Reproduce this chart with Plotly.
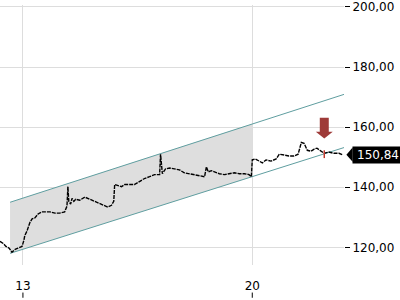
import plotly.graph_objects as go

# ---- data ----
x_tickvals = [0, 5]
x_ticktext = ["13", "20"]
y_tickvals = [120, 140, 160, 180, 200]

# time in trading days (0 = start of the 13th), price values
price_t = [-0.50, -0.43, -0.37, -0.30, -0.24, -0.17, -0.11, -0.02, 0.02, 0.04,
           0.09, 0.15, 0.20, 0.26, 0.33, 0.41, 0.48, 0.59, 0.70, 0.80,
           0.91, 0.96, 0.98, 1.00, 1.04, 1.07, 1.11, 1.15, 1.24, 1.35,
           1.46, 1.57, 1.67, 1.78, 1.85, 1.93, 1.98, 2.00, 2.07, 2.15,
           2.22, 2.33, 2.43, 2.54, 2.65, 2.76, 2.87, 2.98, 3.00, 3.04,
           3.07, 3.11, 3.20, 3.30, 3.41, 3.52, 3.63, 3.74, 3.85, 3.96,
           4.00, 4.04, 4.11, 4.17, 4.28, 4.39, 4.50, 4.61, 4.72, 4.83,
           4.93, 4.98, 5.00, 5.07, 5.15, 5.22, 5.30, 5.41, 5.52, 5.59,
           5.70, 5.80, 5.91, 6.00, 6.07, 6.13, 6.20, 6.28, 6.35, 6.41,
           6.50, 6.57, 6.67, 6.78, 6.89, 6.96]
price_v = [122.0, 121.3, 120.3, 119.7, 118.4, 119.3, 119.7, 120.3, 122.3, 123.9,
           125.5, 128.2, 129.5, 129.8, 131.1, 131.8, 131.8, 131.8, 131.4, 131.4,
           131.8, 133.7, 140.2, 135.3, 134.4, 136.3, 135.3, 136.0, 135.7, 136.7,
           136.0, 135.3, 134.4, 133.7, 133.4, 134.0, 135.3, 140.9, 140.6, 140.2,
           140.9, 140.9, 140.9, 141.9, 142.9, 143.5, 144.2, 144.2, 151.0, 144.5,
           145.1, 146.1, 146.4, 146.1, 145.8, 144.8, 144.5, 144.2, 143.8, 143.5,
           146.8, 145.1, 145.5, 145.1, 144.5, 144.2, 144.5, 144.8, 144.5, 144.5,
           144.2, 143.5, 149.1, 149.4, 148.7, 148.1, 149.1, 148.7, 149.4, 151.0,
           150.7, 150.4, 150.4, 151.0, 154.9, 154.6, 152.3, 152.0, 152.7, 153.0,
           152.0, 151.3, 151.7, 151.3, 151.3, 150.84]

# trend channel anchors: start, end of shaded zone, end of extension
channel_t = [-0.28, 5.0, 7.0]
channel_upper = [135.0, 161.1, 170.9]
channel_lower = [118.0, 143.5, 153.2]

# sell signal
signal_t = 6.57
signal_bar_low = 149.7
signal_bar_high = 152.3
arrow_top = 163.1
arrow_neck = 158.5
arrow_tip = 156.2

last_price = 150.84
last_label = "150,84"

# ---- styles ----
FONT = "DejaVu Sans"
GRID = "#dddddd"
TEAL = "#5f9ea0"
ARROW = "#9e3a38"

fig = go.Figure()

# shaded channel
fig.add_trace(go.Scatter(
    x=channel_t[:2] + channel_t[1::-1],
    y=channel_upper[:2] + channel_lower[1::-1],
    fill="toself", fillcolor="#dedede", mode="lines",
    line=dict(width=0), hoverinfo="skip"))

# channel lines
for ys in (channel_upper, channel_lower):
    fig.add_trace(go.Scatter(x=channel_t, y=ys, mode="lines",
                             line=dict(color=TEAL, width=1), hoverinfo="skip"))

# price
fig.add_trace(go.Scatter(x=price_t, y=price_v, mode="lines",
                         line=dict(color="#000000", width=1.4, dash="4px,1px")))

# red signal bar
fig.add_trace(go.Scatter(x=[signal_t, signal_t], y=[signal_bar_low, signal_bar_high],
                         mode="lines", line=dict(color="#c0392b", width=1.5)))

bw, hw = 0.098, 0.185
arrow_path = (f"M {signal_t-bw},{arrow_top} L {signal_t+bw},{arrow_top} "
              f"L {signal_t+bw},{arrow_neck} L {signal_t+hw},{arrow_neck} "
              f"L {signal_t},{arrow_tip} L {signal_t-hw},{arrow_neck} "
              f"L {signal_t-bw},{arrow_neck} Z")
fig.add_shape(type="path", path=arrow_path, xref="x", yref="y",
              fillcolor=ARROW, line=dict(width=0))

# price tag pointer
fig.add_shape(type="path", xref="paper", yref="y",
              path=f"M 1.007,{last_price} L 1.025,{last_price+2.35} L 1.025,{last_price-2.35} Z",
              fillcolor="#000000", line=dict(width=0))
fig.add_annotation(x=1.024, xref="paper", y=last_price, yref="y",
                   xanchor="left", yanchor="middle", text=last_label,
                   showarrow=False, bgcolor="#000000", borderpad=1, width=48,
                   font=dict(family=FONT, size=12, color="#ffffff"))

# x tick marks below labels
for tv in x_tickvals:
    fig.add_shape(type="line", xref="x", yref="paper", x0=tv, x1=tv,
                  y0=-0.106, y1=-0.126, line=dict(color="#000000", width=1))

fig.update_layout(
    width=400, height=300,
    margin=dict(l=0, r=56, t=0, b=35),
    paper_bgcolor="white", plot_bgcolor="white",
    showlegend=False, separators=", ",
    font=dict(family=FONT, size=12, color="#000000"),
    xaxis=dict(range=[-0.5, 7.0], tickvals=x_tickvals, ticktext=x_ticktext,
               showgrid=True, gridcolor=GRID, gridwidth=1, zeroline=False,
               showline=False, ticks="", ticklabelstandoff=12,
               tickfont=dict(family=FONT, size=12, color="#000000")),
    yaxis=dict(range=[114.12, 200.65], side="right", tickvals=y_tickvals,
               tickformat=".2f", showgrid=True, gridcolor=GRID, gridwidth=1,
               zeroline=False, showline=False, ticks="outside", ticklen=5,
               tickcolor="#000000", tickwidth=1, ticklabeloverflow="allow",
               tickfont=dict(family=FONT, size=12, color="#000000")),
)

fig.write_html("out.html")
